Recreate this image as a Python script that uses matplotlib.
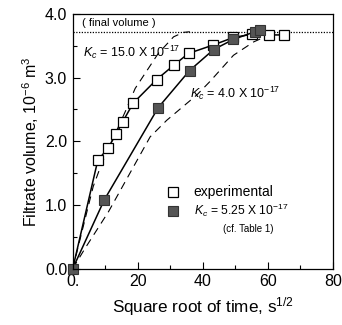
import matplotlib
matplotlib.use('Agg')
import matplotlib.pyplot as plt
from matplotlib.ticker import FixedLocator

plt.rcParams['font.family'] = ['Liberation Sans', 'DejaVu Sans']
plt.rcParams['mathtext.fontset'] = 'custom'
plt.rcParams['mathtext.rm'] = 'Liberation Sans'
plt.rcParams['mathtext.it'] = 'Liberation Sans:italic'

# experimental points (open squares)
exp_x = [7.7, 10.8, 13.3, 15.4, 18.6, 25.8, 31.2, 35.6, 43.1, 49.4, 55.0, 60.2, 65.0]
exp_y = [1.70, 1.89, 2.11, 2.31, 2.60, 2.97, 3.20, 3.38, 3.51, 3.63, 3.68, 3.67, 3.67]

# model with Kc = 5.25e-17 (filled squares)
fit_x = [0.0, 9.7, 26.3, 35.9, 43.3, 49.4, 56.0, 57.5]
fit_y = [0.0, 1.08, 2.53, 3.11, 3.44, 3.60, 3.72, 3.74]

# dashed curves, Kc = 15.0e-17 and 4.0e-17
hi_x = [0.0, 6.3, 8.9, 16.1, 19.2, 26.3, 31.0, 34.0, 36.0]
hi_y = [0.0, 1.29, 1.65, 2.46, 2.83, 3.38, 3.64, 3.71, 3.72]
lo_x = [0.0, 3.8, 11.0, 23.8, 28.9, 38.2, 42.2, 49.4, 55.6, 60.0, 63.0]
lo_y = [0.0, 0.32, 0.895, 2.07, 2.33, 2.73, 2.94, 3.35, 3.56, 3.66, 3.70]

final_volume = 3.72

x_ticks = [0, 20, 40, 60, 80]
x_labels = ['0.', '20', '40', '60', '80']
y_ticks = [0.0, 1.0, 2.0, 3.0, 4.0]
y_labels = ['0.0', '1.0', '2.0', '3.0', '4.0']

fig = plt.figure(figsize=(3.42, 3.25), dpi=100)
ax = fig.add_axes([0.2126, 0.1732, 0.761, 0.784])

ax.axhline(final_volume, color='k', linestyle=(0, (1, 1.2)), linewidth=0.9)
ax.plot(hi_x, hi_y, color='k', linestyle=(0, (7, 5)), linewidth=0.8)
ax.plot(lo_x, lo_y, color='k', linestyle=(0, (7, 5)), linewidth=0.8)

ax.plot([0.0] + exp_x, [0.0] + exp_y, color='k', linewidth=1.1)
ax.plot(exp_x, exp_y, linestyle='none', marker='s', markersize=7.5,
        markerfacecolor='white', markeredgecolor='k', markeredgewidth=0.9)
ax.plot(fit_x, fit_y, color='k', linewidth=1.1, marker='s', markersize=7.5,
        markerfacecolor='#555555', markeredgecolor='#333333', markeredgewidth=0.8,
        clip_on=False)

ax.set_xlim(0, 80)
ax.set_ylim(0, 4.0)
ax.xaxis.set_major_locator(FixedLocator(x_ticks))
ax.set_xticklabels(x_labels)
ax.xaxis.set_minor_locator(FixedLocator([10, 30, 50, 70]))
ax.yaxis.set_major_locator(FixedLocator(y_ticks))
ax.set_yticklabels(y_labels)
ax.yaxis.set_minor_locator(FixedLocator([0.5, 1.5, 2.5, 3.5]))
ax.tick_params(which='both', direction='in', labelsize=11.5, pad=4)
ax.tick_params(which='major', length=5, width=0.8)
ax.tick_params(which='minor', length=3, width=0.8)
for s in ax.spines.values():
    s.set_linewidth(0.9)

ax.set_xlabel('Square root of time, s$^{1/2}$', fontsize=12.3, labelpad=4)
ax.set_ylabel('Filtrate volume, 10$^{-6}$ m$^3$', fontsize=11.5, labelpad=3)

ax.text(3.0, 3.85, '( final volume )', fontsize=8, va='center')
ax.text(3.1, 3.40, '$K_c$ = 15.0 X 10$^{-17}$', fontsize=9, va='center')
ax.text(36.1, 2.75, '$K_c$ = 4.0 X 10$^{-17}$', fontsize=9, va='center')

# legend entries placed in axes coords
ax.plot([0.386], [0.302], transform=ax.transAxes, marker='s', markersize=7.5,
        markerfacecolor='white', markeredgecolor='k', markeredgewidth=0.9)
ax.text(0.463, 0.302, 'experimental', transform=ax.transAxes, fontsize=10, va='center')
ax.plot([0.386], [0.228], transform=ax.transAxes, marker='s', markersize=7.5,
        markerfacecolor='#555555', markeredgecolor='#333333', markeredgewidth=0.8)
ax.text(0.466, 0.228, '$K_c$ = 5.25 X 10$^{-17}$', transform=ax.transAxes,
        fontsize=8.7, va='center')
ax.text(0.576, 0.156, '(cf. Table 1)', transform=ax.transAxes, fontsize=7, va='center')

fig.savefig('out.png', dpi=100)
